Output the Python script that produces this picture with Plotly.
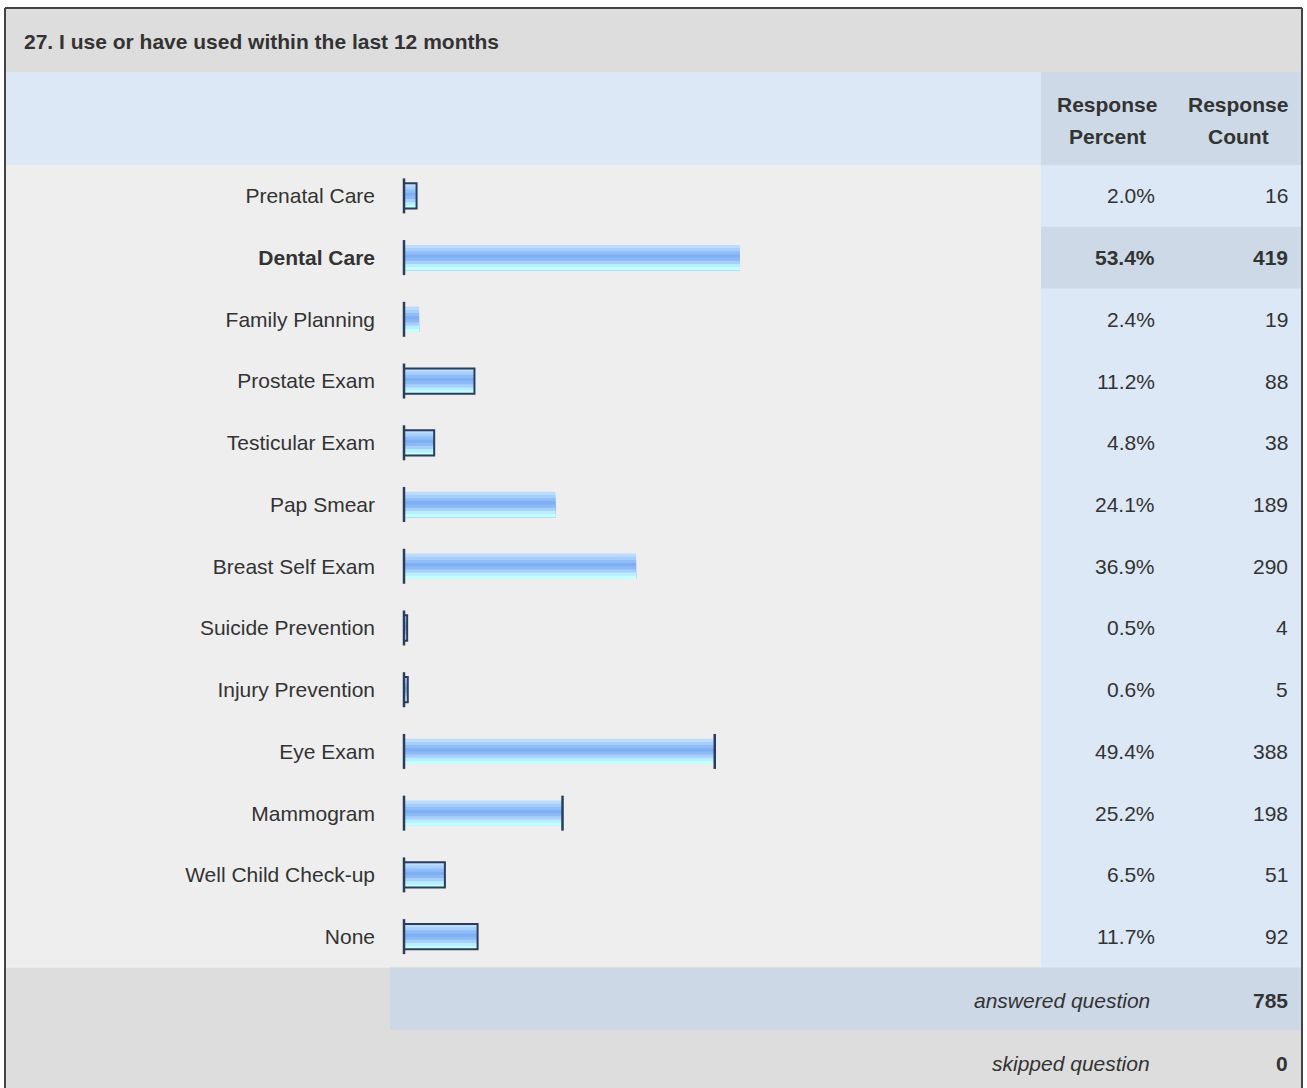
import plotly.graph_objects as go

title = "27. I use or have used within the last 12 months"
categories = ["Prenatal Care", "Dental Care", "Family Planning", "Prostate Exam", "Testicular Exam",
              "Pap Smear", "Breast Self Exam", "Suicide Prevention", "Injury Prevention", "Eye Exam",
              "Mammogram", "Well Child Check-up", "None"]
percents = [2.0, 53.4, 2.4, 11.2, 4.8, 24.1, 36.9, 0.5, 0.6, 49.4, 25.2, 6.5, 11.7]
counts = [16, 419, 19, 88, 38, 189, 290, 4, 5, 388, 198, 51, 92]
answered = 785
skipped = 0
highlight = "Dental Care"

# which bars show a full dark outline / a right edge in the original
full_outline = {"Prenatal Care", "Prostate Exam", "Testicular Exam", "Suicide Prevention",
                "Injury Prevention", "Well Child Check-up", "None"}
right_edge = {"Eye Exam", "Mammogram"}

W, H = 1307, 1088
FONT = "Liberation Sans, Arial, sans-serif"
TXT = "#333333"
EDGE = "#2b3d5b"


def px(x):
    return x / W


def py(y):
    return 1 - y / H


rows = list(range(len(categories)))
fig = go.Figure()

# glossy bar: each band runs from its start to the bottom, so later ones cover earlier ones
bands = ["#bcdcfe", "#a8cffc", "#90bdf7", "#7eaff3", "#8ab9f6", "#a6d0fb", "#b8eeff", "#c2ffff"]
BW = 0.41
step = BW / len(bands)
for i, c in enumerate(bands):
    fig.add_trace(go.Bar(
        x=percents, y=rows, orientation="h",
        width=BW - i * step, offset=-BW / 2 + i * step,
        marker=dict(color=c, line_width=0), hoverinfo="skip", showlegend=False))

fig.add_trace(go.Bar(
    x=[p if c in full_outline else None for c, p in zip(categories, percents)], y=rows,
    orientation="h", width=BW, offset=-BW / 2,
    marker=dict(color="rgba(0,0,0,0)", line=dict(color=EDGE, width=2)),
    hoverinfo="skip", showlegend=False))

fig.add_trace(go.Scatter(
    x=[0] * len(rows), y=rows, mode="markers", cliponaxis=False,
    marker=dict(symbol="line-ns", size=25, line=dict(color=EDGE, width=2.5)),
    hoverinfo="skip", showlegend=False))

fig.add_trace(go.Scatter(
    x=[p for c, p in zip(categories, percents) if c in right_edge],
    y=[r for c, r in zip(categories, rows) if c in right_edge],
    mode="markers", cliponaxis=False,
    marker=dict(symbol="line-ns", size=25, line=dict(color=EDGE, width=2.5)),
    hoverinfo="skip", showlegend=False))

hi = categories.index(highlight)


def rect(x0, y0, x1, y1, color):
    return dict(type="rect", xref="paper", yref="paper", x0=px(x0), x1=px(x1),
                y0=py(y0), y1=py(y1), fillcolor=color, line_width=0, layer="below")


shapes = [
    rect(6, 8, 1302, 72, "#dddddd"),
    rect(6, 72, 1041, 165, "#dce8f5"),
    rect(1041, 72, 1302, 165, "#cdd9e6"),
    rect(6, 165, 1041, 967.5, "#eeeeee"),
    rect(1041, 165, 1302, 967.5, "#dce8f5"),
    rect(6, 967.5, 1302, H, "#dddddd"),
    rect(390, 967.5, 1302, 1030, "#cdd8e6"),
]
shapes.append(dict(type="rect", xref="paper", yref="y", x0=px(1041), x1=px(1302),
                   y0=hi - 0.5, y1=hi + 0.5, fillcolor="#cdd9e6", line_width=0, layer="below"))
for x0, y0, x1, y1 in [(5, 8, 5, H), (5, 8, 1302, 8), (1302, 8, 1302, H)]:
    shapes.append(dict(type="line", xref="paper", yref="paper", x0=px(x0), x1=px(x1),
                       y0=py(y0), y1=py(y1), line=dict(color="#444444", width=2)))

ann = [dict(text="<b>" + title + "</b>", x=px(22), y=py(41), xanchor="left")]
for xc, l1, l2 in [(1107, "Response", "Percent"), (1238, "Response", "Count")]:
    ann.append(dict(text="<b>" + l1 + "</b>", x=px(xc), y=py(104), xanchor="center"))
    ann.append(dict(text="<b>" + l2 + "</b>", x=px(xc), y=py(136), xanchor="center"))
for c, r, p, n in zip(categories, rows, percents, counts):
    b0, b1 = ("<b>", "</b>") if c == highlight else ("", "")
    ann.append(dict(text=f"{b0}{p:.1f}%{b1}", x=px(1157), y=r, yref="y", xanchor="right"))
    ann.append(dict(text=f"{b0}{n}{b1}", x=px(1290), y=r, yref="y", xanchor="right"))
ann.append(dict(text="<i>answered question</i>", x=px(1152), y=py(1000), xanchor="right"))
ann.append(dict(text=f"<b>{answered}</b>", x=px(1290), y=py(1000), xanchor="right"))
ann.append(dict(text="<i>skipped question</i>", x=px(1152), y=py(1063), xanchor="right"))
ann.append(dict(text=f"<b>{skipped}</b>", x=px(1290), y=py(1063), xanchor="right"))
for a in ann:
    a.setdefault("xref", "paper")
    a.setdefault("yref", "paper")
    a.update(showarrow=False, yanchor="middle", font=dict(family=FONT, size=21, color=TXT))

ticktext = ["<b>" + c + "</b>" if c == highlight else c for c in categories]

fig.update_layout(
    width=W, height=H, margin=dict(l=0, r=0, t=0, b=0),
    paper_bgcolor="white", plot_bgcolor="rgba(0,0,0,0)",
    barmode="overlay", showlegend=False,
    font=dict(family=FONT, size=21, color=TXT),
    xaxis=dict(domain=[px(404), px(1033)], range=[0, 100], visible=False, fixedrange=True),
    yaxis=dict(domain=[py(967.5), py(165)], range=[len(rows) - 0.5, -0.5],
               tickvals=rows, ticktext=ticktext, ticks="", showgrid=False, zeroline=False,
               showline=False, ticklabelstandoff=28, tickfont=dict(size=21, color=TXT),
               fixedrange=True),
    shapes=shapes, annotations=ann,
)

# drop the browser's default 8px body margin so the figure sits at the window corner
fig.write_html("out.html", config={"displayModeBar": False},
               post_script="document.body.style.margin='0';")
